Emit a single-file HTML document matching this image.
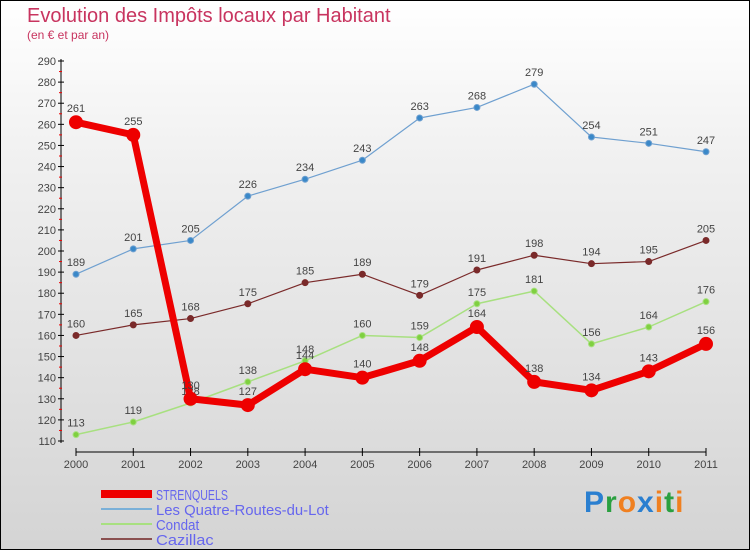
<!DOCTYPE html>
<html><head><meta charset="utf-8"><style>
html,body{margin:0;padding:0}
body{width:750px;height:550px;overflow:hidden;font-family:"Liberation Sans",sans-serif}
#wrap{position:relative;width:748px;height:548px;border:1px solid #000;background:linear-gradient(#fff 0%,#f0f0f0 30%,#d4d4d4 100%)}
.t{position:absolute;white-space:nowrap}
</style></head><body>
<div id="wrap">
<div class="t" style="left:26px;top:4px;font-size:20px;color:#c8345f;">Evolution des Impôts locaux par Habitant</div>
<div class="t" style="left:26px;top:27px;font-size:12px;color:#c8345f;">(en € et par an)</div>
<svg id="chart" width="750" height="550" style="position:absolute;left:0;top:0"></svg>
<div class="t" style="left:583px;top:485px;font-size:30px;font-weight:bold;letter-spacing:1px"><span style="color:#2a7fd0">P</span><span style="color:#2aa040">r</span><span style="color:#f08020">o</span><span style="color:#2a7fd0">x</span><span style="color:#f08020">i</span><span style="color:#2aa040">t</span><span style="color:#f08020">i</span></div>
</div>
<script>
const years=["2000","2001","2002","2003","2004","2005","2006","2007","2008","2009","2010","2011"];
const yTicks=[110,120,130,140,150,160,170,180,190,200,210,220,230,240,250,260,270,280,290];
const strenquels=[261,255,130,127,144,140,148,164,138,134,143,156];
const quatre=[189,201,205,226,234,243,263,268,279,254,251,247];
const condat=[113,119,128,138,148,160,159,175,181,156,164,176];
const cazillac=[160,165,168,175,185,189,179,191,198,194,195,205];
const NS="http://www.w3.org/2000/svg";
const svg=document.getElementById('chart');
const X=i=>75+i*(630/11);
const Y=v=>440-(v-110)*(380/180);
function mk(tag,attrs,parent){const e=document.createElementNS(NS,tag);for(const k in attrs)e.setAttribute(k,attrs[k]);(parent||svg).appendChild(e);return e;}
// axes
let e=mk('line',{x1:60,y1:58,x2:60,y2:442,stroke:'#000','stroke-width':1});


e=mk('line',{x1:75,y1:451,x2:705,y2:451,stroke:'#000','stroke-width':1});


yTicks.forEach((v,i)=>{
 mk('line',{x1:57,y1:Y(v),x2:63,y2:Y(v),stroke:'#000'});
 if(i<yTicks.length-1) mk('line',{x1:58,y1:Y(v+5),x2:61,y2:Y(v+5),stroke:'#e00'});
 const t=mk('text',{x:55,y:Y(v)+4,'text-anchor':'end','font-size':11,fill:'#444'});
 t.textContent=v;
 
 
});
years.forEach((y,i)=>{
 mk('line',{x1:X(i),y1:447,x2:X(i),y2:455,stroke:'#000'});
 const t=mk('text',{x:X(i),y:467,'text-anchor':'middle','font-size':11,fill:'#444'});
 t.textContent=y;
 
 
});
function series(data,color,w,r,fill,name,labelDy){
 const p=mk('polyline',{points:data.map((v,i)=>X(i)+','+Y(v)).join(' '),fill:'none',stroke:color,'stroke-width':w,'stroke-linejoin':'round'});
 
 
 data.forEach((v,i)=>{
  const c=mk('circle',{cx:X(i),cy:Y(v),r:r,fill:fill,stroke:color,'stroke-width':1});
  
  
  const t=mk('text',{x:X(i),y:Y(v)-labelDy,'text-anchor':'middle','font-size':11,fill:'#444'});
  t.textContent=v;
  
  
 });
}
series(cazillac,'#7a2a2a',1.2,3,'#7a2a2a','cazillac',8);
series(condat,'#a8e080',1.5,3,'#7fd040','condat',8);
series(quatre,'#6fa0d0',1.2,3,'#3a88c8','quatre-routes',8);
series(strenquels,'#ee0000',7,6.5,'#ee0000','strenquels',10);
// legend
const leg=[["STRENQUELS","#ee0000",8],["Les Quatre-Routes-du-Lot","#7ab0d8",2],["Condat","#a8e080",2],["Cazillac","#8a5050",2]];
leg.forEach((l,i)=>{
 const y=493+i*15;
 const g=mk('g',{});
 
 
 mk('line',{x1:100,y1:y,x2:151,y2:y,stroke:l[1],'stroke-width':l[2]},g);
 const t=mk('text',{x:155,y:y+6,'font-size':15,fill:'#6666ee',textLength:l[0].length*7.2,lengthAdjust:'spacingAndGlyphs'},g);
 t.textContent=l[0];
});
</script>
</body></html>
